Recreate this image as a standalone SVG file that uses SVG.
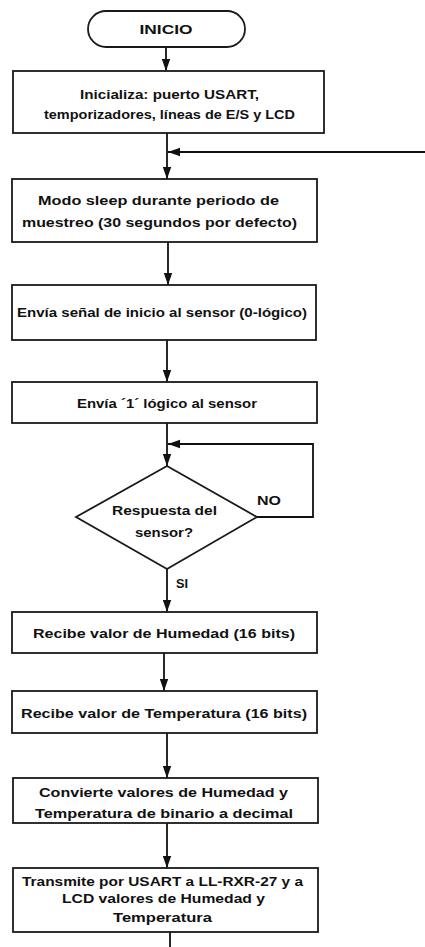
<svg xmlns="http://www.w3.org/2000/svg" width="425" height="947" viewBox="0 0 425 947">
<style>
.b{fill:#fff;stroke:#1a1a1a;stroke-width:1.8}
.t{font-family:"Liberation Sans",Arial,sans-serif;font-weight:bold;font-size:13.6px;fill:#111;text-anchor:middle}
.c{fill:none;stroke:#111;stroke-width:1.8}
</style>
<defs>
<marker id="a" markerUnits="userSpaceOnUse" markerWidth="13" markerHeight="10" refX="12" refY="5" orient="auto">
<path d="M0,0.8 L12,5 L0,9.2 z" fill="#111"/>
</marker>
</defs>
<rect width="425" height="947" fill="#fff"/>
<g id="connectors">
<path class="c" d="M166,47 V71" marker-end="url(#a)"/>
<path class="c" d="M167,133 V179" marker-end="url(#a)"/>
<path class="c" d="M425,152 H168" marker-end="url(#a)"/>
<path class="c" d="M168,242 V285" marker-end="url(#a)"/>
<path class="c" d="M167,340 V382" marker-end="url(#a)"/>
<path class="c" d="M167,423 V466" marker-end="url(#a)"/>
<path class="c" d="M257,517 H313 V444 H168" marker-end="url(#a)"/>
<path class="c" d="M167,569 V612" marker-end="url(#a)"/>
<path class="c" d="M164,653 V691" marker-end="url(#a)"/>
<path class="c" d="M167,733 V778" marker-end="url(#a)"/>
<path class="c" d="M167,823 V868" marker-end="url(#a)"/>
<path class="c" d="M170,932 V947"/>
</g>
<g id="inicio">
<rect class="b" x="88" y="11" width="157" height="36" rx="18"/>
<text class="t" x="166" y="34" textLength="53" lengthAdjust="spacingAndGlyphs">INICIO</text>
</g>
<g id="inicializa">
<rect class="b" x="13" y="71" width="311" height="62"/>
<text class="t" x="169.5" y="99" textLength="179" lengthAdjust="spacingAndGlyphs">Inicializa: puerto USART,</text>
<text class="t" x="169.5" y="119" textLength="251" lengthAdjust="spacingAndGlyphs">temporizadores, líneas de E/S y LCD</text>
</g>
<g id="sleep">
<rect class="b" x="12" y="179" width="305" height="63"/>
<text class="t" x="158.5" y="205" textLength="241" lengthAdjust="spacingAndGlyphs">Modo sleep durante periodo de</text>
<text class="t" x="159.5" y="227" textLength="275" lengthAdjust="spacingAndGlyphs">muestreo (30 segundos por defecto)</text>
</g>
<g id="senal">
<rect class="b" x="12" y="285" width="304" height="55"/>
<text class="t" x="162" y="317" textLength="290" lengthAdjust="spacingAndGlyphs">Envía señal de inicio al sensor (0-lógico)</text>
</g>
<g id="uno">
<rect class="b" x="12" y="382" width="305" height="41"/>
<text class="t" x="167" y="408" textLength="180" lengthAdjust="spacingAndGlyphs">Envía ´1´ lógico al sensor</text>
</g>
<g id="respuesta">
<polygon class="b" points="167,466 257,517 167,569 76,517"/>
<text class="t" x="164.5" y="515" textLength="105" lengthAdjust="spacingAndGlyphs">Respuesta del</text>
<text class="t" x="164" y="537" textLength="58" lengthAdjust="spacingAndGlyphs">sensor?</text>
<text class="t" x="269" y="505" textLength="24" lengthAdjust="spacingAndGlyphs">NO</text>
<text class="t" x="182" y="588" textLength="12" lengthAdjust="spacingAndGlyphs">SI</text>
</g>
<g id="humedad">
<rect class="b" x="12" y="612" width="305" height="41"/>
<text class="t" x="164" y="638" textLength="262" lengthAdjust="spacingAndGlyphs">Recibe valor de Humedad (16 bits)</text>
</g>
<g id="temperatura">
<rect class="b" x="12" y="691" width="305" height="42"/>
<text class="t" x="164" y="718" textLength="286" lengthAdjust="spacingAndGlyphs">Recibe valor de Temperatura (16 bits)</text>
</g>
<g id="convierte">
<rect class="b" x="13" y="778" width="305" height="45"/>
<text class="t" x="163.5" y="797" textLength="249" lengthAdjust="spacingAndGlyphs">Convierte valores de Humedad y</text>
<text class="t" x="164" y="818" textLength="258" lengthAdjust="spacingAndGlyphs">Temperatura de binario a decimal</text>
</g>
<g id="transmite">
<rect class="b" x="13" y="868" width="305" height="64"/>
<text class="t" x="162.5" y="886" textLength="281" lengthAdjust="spacingAndGlyphs">Transmite por USART a LL-RXR-27 y a</text>
<text class="t" x="163.5" y="903" textLength="203" lengthAdjust="spacingAndGlyphs">LCD valores de Humedad y</text>
<text class="t" x="162.5" y="922" textLength="99" lengthAdjust="spacingAndGlyphs">Temperatura</text>
</g>
</svg>
